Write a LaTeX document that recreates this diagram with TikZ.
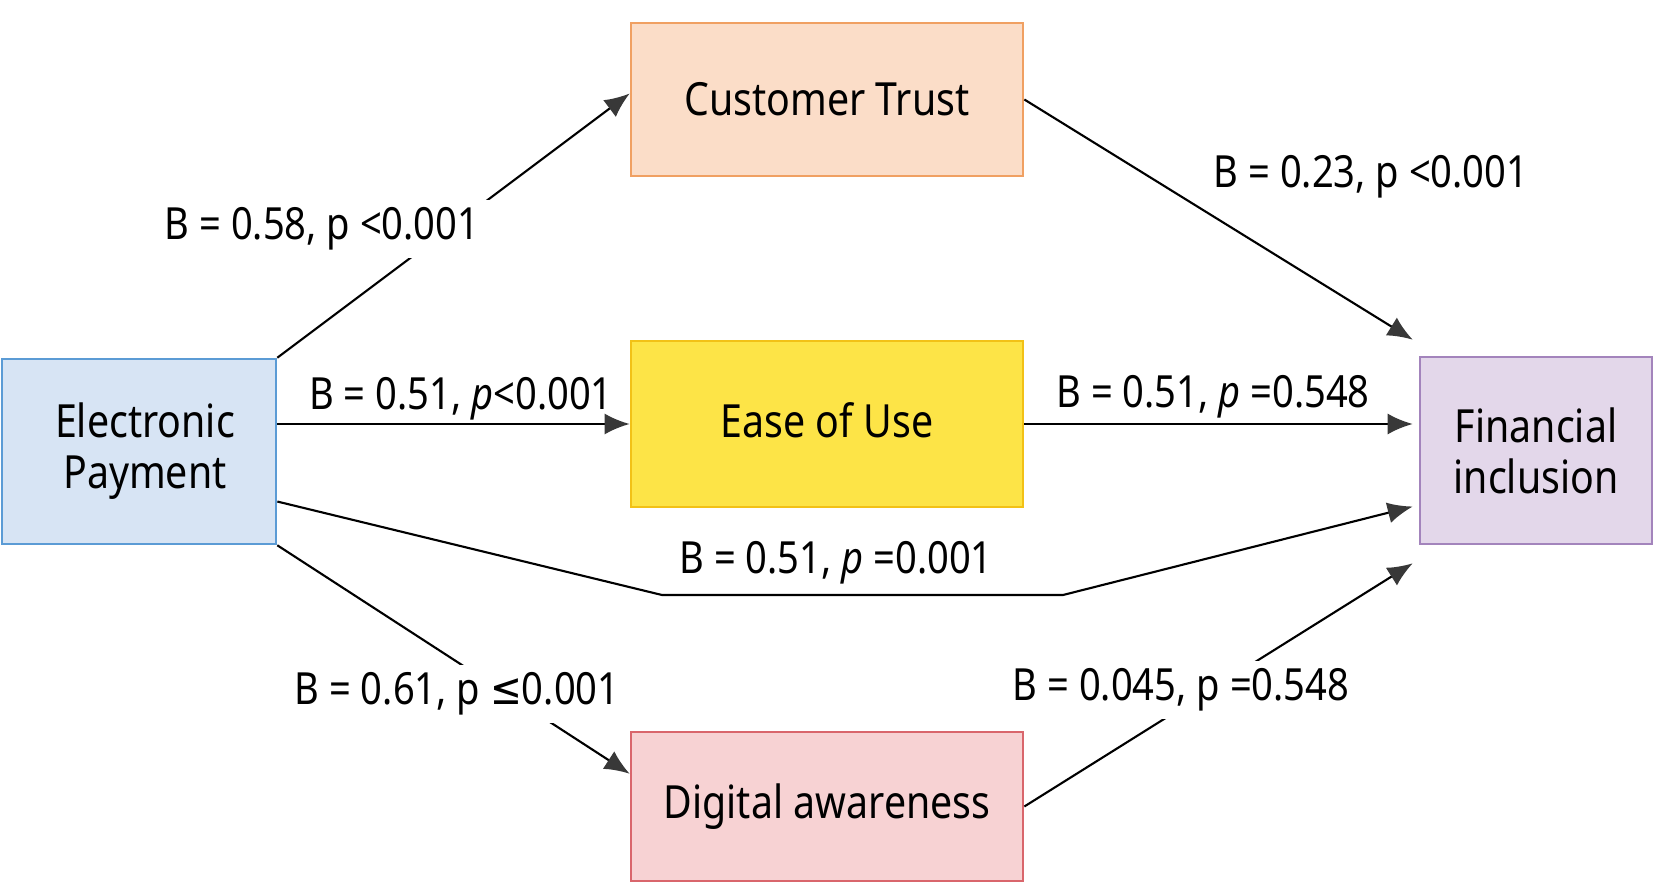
\documentclass[tikz,border=0pt]{standalone}
\usepackage{fontspec}
\setmainfont[FakeStretch=0.86]{Noto Sans}
\newfontfamily\symfont[FakeStretch=0.86]{DejaVu Sans}
\usetikzlibrary{arrows.meta}

\definecolor{epfill}{HTML}{D7E4F4}
\definecolor{epline}{HTML}{5B9BD5}
\definecolor{ctfill}{HTML}{FBDDC8}
\definecolor{ctline}{HTML}{F0A062}
\definecolor{eufill}{HTML}{FDE447}
\definecolor{euline}{HTML}{F2C116}
\definecolor{dafill}{HTML}{F7D2D3}
\definecolor{daline}{HTML}{D9666C}
\definecolor{fifill}{HTML}{E3D7EA}
\definecolor{filine}{HTML}{A384BC}
\definecolor{tipgray}{HTML}{383838}

\begin{document}
\begin{tikzpicture}[x=0.01cm,y=-0.01cm,
    box/.style={draw,line width=0.7pt,align=center,inner sep=0pt,
      font=\fontsize{13}{14.5}\selectfont},
    arr/.style={line width=0.6pt,-{Latex[length=0.25cm,width=0.21cm,color=tipgray]}},
    lbl/.style={inner sep=1pt,font=\fontsize{12.6}{14}\selectfont},
    cut/.style={lbl,fill=white,inner xsep=0.2cm,inner ysep=0.08cm}]
      \useasboundingbox (0,0) rectangle (1654,894) ;
      % the five blocks
      \node[box,fill=epfill,draw=epline,minimum width=2.74cm,minimum height=1.85cm] %
      (EP) at (139,451.5) {\hspace*{0.12cm}Electronic\\\hspace*{0.12cm}Payment} ;
      \node[box,fill=ctfill,draw=ctline,minimum width=3.92cm,minimum height=1.53cm] %
      (CT) at (827,99.5) {Customer Trust} ;
      \node[box,fill=eufill,draw=euline,minimum width=3.92cm,minimum height=1.66cm] %
      (EU) at (827,424) {\raisebox{0.07cm}{Ease of Use}} ;
      \node[box,fill=dafill,draw=daline,minimum width=3.92cm,minimum height=1.49cm] %
      (DA) at (827,806.5) {Digital awareness} ;
      \node[box,fill=fifill,draw=filine,minimum width=2.32cm,minimum height=1.87cm] %
      (FI) at (1536,450.5) {Financial\\inclusion} ;
      % paths
      \coordinate (fiL) at ([xshift=-0.06cm]FI.west) ;
      \coordinate (bendL) at (662,595) ;
      \coordinate (bendR) at (1063,595) ;
      \draw[arr] (EP.north east) -- ([yshift=0.06cm]CT.west) ;
      \draw[arr] (CT.east) -- ([xshift=-0.06cm,yshift=0.16cm]FI.north west) ;
      \draw[arr] (EP.east |- EU.west) -- (EU.west) ;
      \draw[arr] (EU.east) -- (fiL |- EU.east) ;
      \draw[arr] ([yshift=-0.5cm]EP.east) -- (bendL) -- (bendR) -- ([yshift=-0.56cm]fiL) ;
      \draw[arr] (EP.south east) -- ([yshift=-0.43cm]DA.north west) ;
      \draw[arr] (DA.east) -- ([xshift=-0.06cm,yshift=-0.18cm]FI.south west) ;
      % coefficients
      \node[cut] (bCT) at (322,229) {B = 0.58, p <0.001} ;
      \node[lbl] (bCTFI) at (1371,177) {B = 0.23, p <0.001} ;
      \node[lbl] (bEU) at (461,399) {B = 0.51, \textit{p}<0.001} ;
      \node[lbl] (bEUFI) at (1213,397) {B = 0.51, \textit{p} =0.548} ;
      \node[lbl] (bDir) at (836,563) {B = 0.51, \textit{p} =0.001} ;
      \node[cut] (bDA) at (457,694) {B = 0.61, p {\symfont ≤}0.001} ;
      \node[cut] (bDAFI) at (1181,690) {B = 0.045, p =0.548} ;
    \end{tikzpicture}
\end{document}
